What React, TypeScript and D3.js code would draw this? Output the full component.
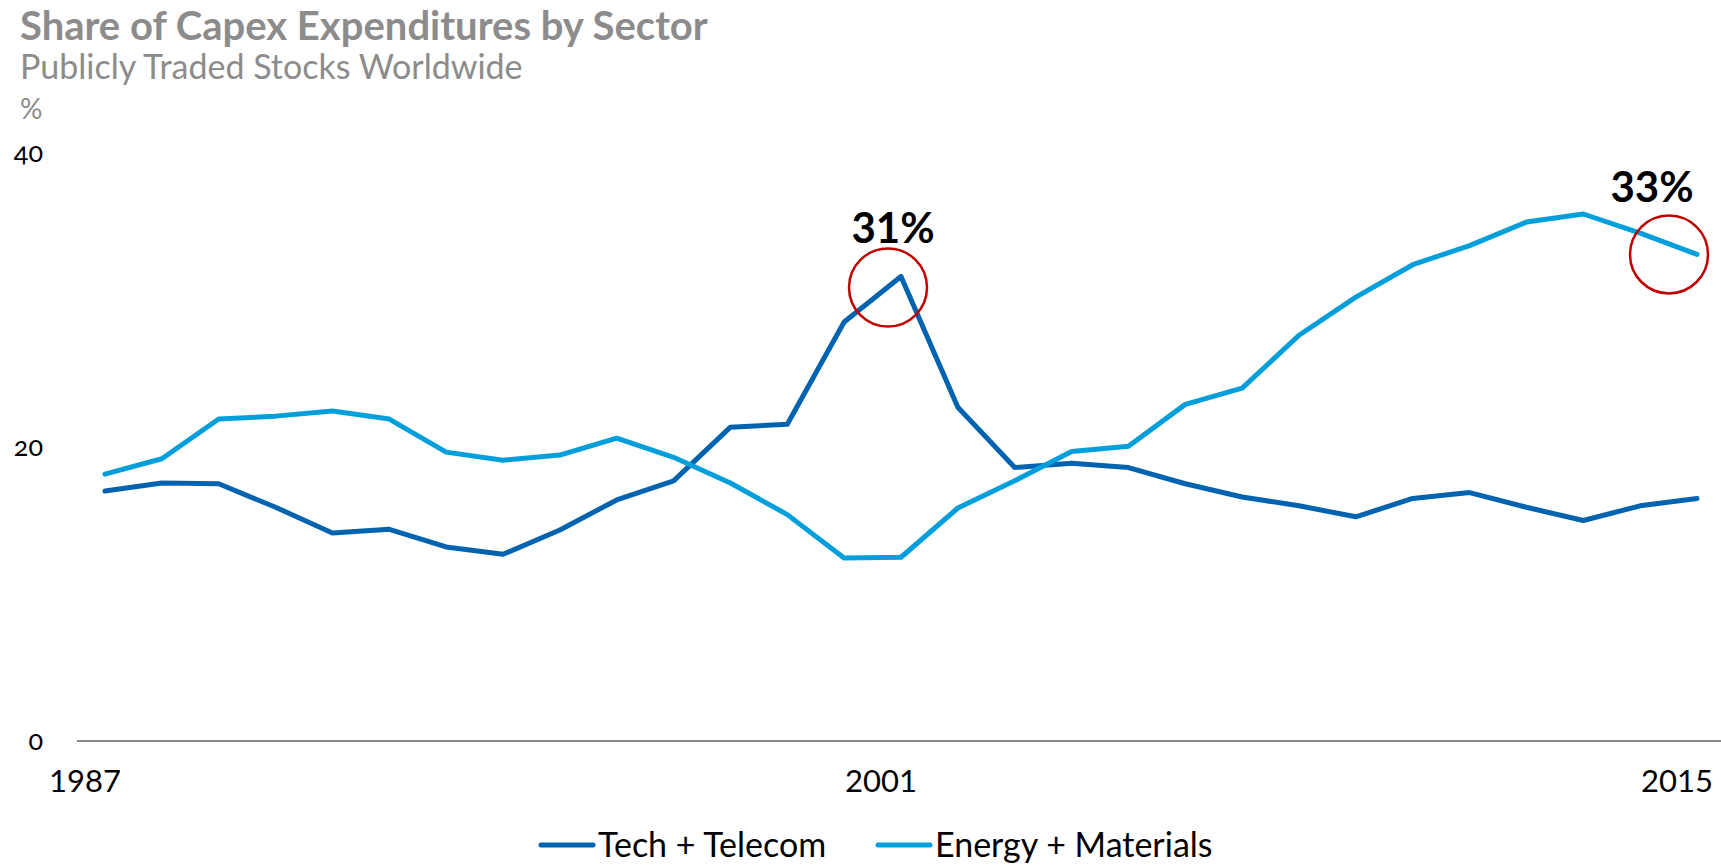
import { useEffect, useRef } from 'react';
import * as d3 from 'd3';

const years = [
  1987, 1988, 1989, 1990, 1991, 1992, 1993, 1994, 1995, 1996, 1997, 1998, 1999, 2000, 2001,
  2002, 2003, 2004, 2005, 2006, 2007, 2008, 2009, 2010, 2011, 2012, 2013, 2014, 2015,
];
const techTelecom = [
  17.0, 17.55, 17.5, 15.9, 14.15, 14.4, 13.2, 12.7, 14.35, 16.4, 17.7, 21.35, 21.55, 28.5, 31.6,
  22.7, 18.6, 18.9, 18.6, 17.5, 16.6, 16.0, 15.25, 16.5, 16.9, 15.9, 15.0, 16.0, 16.5,
];
const energyMaterials = [
  18.15, 19.2, 21.9, 22.1, 22.45, 21.9, 19.65, 19.1, 19.45, 20.6, 19.3, 17.55, 15.4, 12.45, 12.5,
  15.85, 17.7, 19.7, 20.05, 22.9, 24.0, 27.6, 30.2, 32.4, 33.7, 35.3, 35.85, 34.55, 33.1,
];
const seriesNames = ['Tech + Telecom', 'Energy + Materials'];
const yTicks = [0, 20, 40];
const xTicks = [1987, 2001, 2015];

export default function App() {
  const svgRef = useRef<SVGSVGElement | null>(null);

  useEffect(() => {
    document.body.style.margin = '0';
    if (!svgRef.current) return;
    const svg = d3.select(svgRef.current);
    svg.selectAll('*').remove();

    const width = 1721;
    const height = 866;
    const font = 'Lato, "Open Sans", sans-serif';
    const colors = ['#0063b0', '#009fdc'];

    const x = d3.scaleLinear().domain([1987, 2015]).range([105, 1697]);
    const y = d3.scaleLinear().domain([0, 40]).range([741, 153]);

    svg.attr('width', width).attr('height', height);

    // titles
    svg.append('text')
      .attr('x', 20).attr('y', 40)
      .style('font-family', font).style('font-weight', 700).style('font-size', '40px')
      .style('fill', '#8c8c8c')
      .text('Share of Capex Expenditures by Sector');
    svg.append('text')
      .attr('x', 20).attr('y', 79)
      .style('font-family', font).style('font-size', '34px')
      .style('fill', '#8c8c8c')
      .text('Publicly Traded Stocks Worldwide');
    svg.append('text')
      .attr('x', 20).attr('y', 119)
      .style('font-family', font).style('font-size', '28px')
      .style('fill', '#8c8c8c')
      .text('%');

    // y labels
    svg.append('g')
      .selectAll('text')
      .data(yTicks)
      .enter()
      .append('text')
      .attr('x', 43)
      .attr('y', d => y(d))
      .attr('dy', '0.35em')
      .attr('text-anchor', 'end')
      .style('font-family', font).style('font-size', '27px')
      .style('font-variant-numeric', 'oldstyle-nums')
      .style('fill', '#000')
      .text(d => d);

    // baseline
    svg.append('line')
      .attr('x1', 77).attr('x2', 1721)
      .attr('y1', y(0)).attr('y2', y(0))
      .style('stroke', '#898989').style('stroke-width', 2);

    // x labels
    svg.append('g')
      .selectAll('text')
      .data(xTicks)
      .enter()
      .append('text')
      .attr('x', d => x(d) - 20)
      .attr('y', 792)
      .attr('text-anchor', 'middle')
      .style('font-family', font).style('font-size', '31px')
      .style('fill', '#000')
      .text(d => d);

    // lines
    const line = d3.line<number>()
      .x((_, i) => x(years[i]))
      .y(d => y(d));

    [techTelecom, energyMaterials].forEach((values, k) => {
      svg.append('path')
        .datum(values)
        .attr('d', line)
        .style('fill', 'none')
        .style('stroke', colors[k])
        .style('stroke-width', 5)
        .style('stroke-linejoin', 'round')
        .style('stroke-linecap', 'round');
    });

    // annotations
    const notes = [
      { year: 2001, value: techTelecom[14], label: '31%', cdx: -13, cdy: 11, ty: 243, tdx: -8 },
      { year: 2015, value: energyMaterials[28], label: '33%', cdx: -28, cdy: 0, ty: 202, tdx: -45 },
    ];
    notes.forEach(n => {
      svg.append('circle')
        .attr('cx', x(n.year) + n.cdx)
        .attr('cy', y(n.value) + n.cdy)
        .attr('r', 39)
        .style('fill', 'none')
        .style('stroke', '#c00000')
        .style('stroke-width', 2.5);
      svg.append('text')
        .attr('x', x(n.year) + n.tdx)
        .attr('y', n.ty)
        .attr('text-anchor', 'middle')
        .style('font-family', font).style('font-weight', 700).style('font-size', '42px')
        .style('fill', '#000')
        .text(n.label);
    });

    // legend
    const legend = svg.append('g');
    const legendX = [541, 878];
    seriesNames.forEach((name, k) => {
      legend.append('line')
        .attr('x1', legendX[k]).attr('x2', legendX[k] + 52)
        .attr('y1', 845).attr('y2', 845)
        .style('stroke', colors[k]).style('stroke-width', 5)
        .style('stroke-linecap', 'round');
      legend.append('text')
        .attr('x', legendX[k] + 57)
        .attr('y', 845)
        .attr('dy', '0.35em')
        .style('font-family', font).style('font-size', '34px')
        .style('fill', '#000')
        .text(name);
    });
  }, []);

  return <svg ref={svgRef} style={{ display: 'block' }}></svg>;
}
